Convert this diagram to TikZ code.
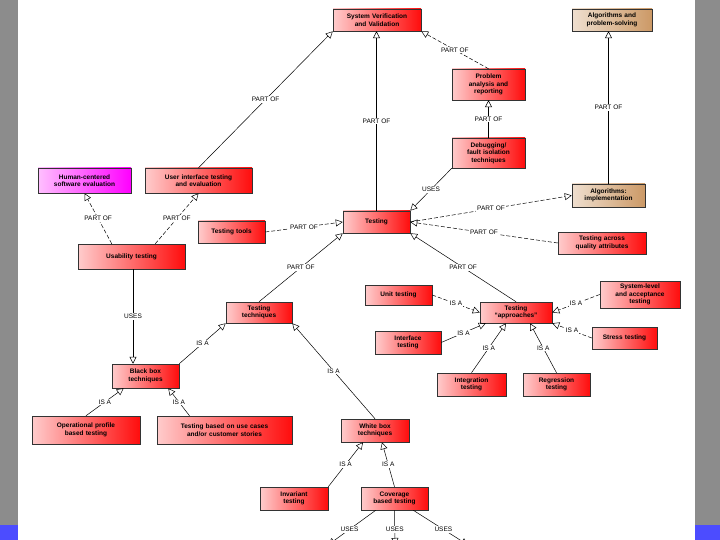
\documentclass[tikz,border=0pt]{standalone}
\usepackage{fontspec}
\setmainfont{Liberation Sans}
\usetikzlibrary{arrows.meta,shadows}
\begin{document}
\begin{tikzpicture}[x=1pt,y=-1pt,
 box/.style={draw=black!80,line width=0.5pt,left color=red!20,right color=red!95,align=center,font=\fontsize{6.5}{7.5}\selectfont\bfseries,inner sep=1pt,drop shadow={opacity=0.4,shadow xshift=1pt,shadow yshift=-1pt}},
 tan/.style={left color=brown!25,right color=brown!80!white},
 mag/.style={left color=magenta!25,right color=magenta},
 lab/.style={fill=white,font=\fontsize{6.5}{7.5}\selectfont,inner sep=1pt},
 rel/.style={-{Triangle[open,length=7pt,width=7pt]},line width=0.5pt},
 dsh/.style={rel,dash pattern=on 4pt off 2pt}]
\fill[black!45] (0,0) rectangle (18,540);
\fill[black!45] (695,0) rectangle (720,540);
\fill[white] (18,0) rectangle (695,540);
\fill[blue!70] (0,525) rectangle (18,540);
\fill[blue!70] (695,525) rectangle (720,540);
\useasboundingbox (0,0) rectangle (720,540);
\def\bx(#1,#2,#3,#4)#5#6{\node[box,#6,minimum width=#3-#1,minimum height=#4-#2,text width=#3-#1-4] (#5) at ({(#1+#3)/2},{(#2+#4)/2})}
\bx(333,9,421,31){svv}{}{System Verification\\and Validation};
\bx(572,9,652,31){aps}{tan}{Algorithms and\\problem-solving};
\bx(452,69,525,100){pa}{}{Problem\\analysis and\\reporting};
\bx(452,138,525,168){dbg}{}{Debugging/\\fault isolation\\techniques};
\bx(38,168,131,193){hc}{mag}{Human-centered\\software evaluation};
\bx(145,168,252,193){ui}{}{User interface testing\\and evaluation};
\bx(572,184,645,207){ai}{tan}{Algorithms:\\implementation};
\bx(343,211,410,233){t}{}{Testing};
\bx(198,221,265,243){tt}{}{Testing tools};
\bx(558,232,646,254){qa}{}{Testing across\\quality attributes};
\bx(78,244,185,269){us}{}{Usability testing};
\bx(365,285,432,305){ut}{}{Unit testing};
\bx(226,302,292,323){tech}{}{Testing\\techniques};
\bx(480,302,552,323){ap}{}{Testing\\``approaches''};
\bx(600,281,680,308){sl}{}{System-level\\and acceptance\\testing};
\bx(375,331,441,354){it}{}{Interface\\testing};
\bx(592,327,657,349){st}{}{Stress testing};
\bx(112,364,179,388){bb}{}{Black box\\techniques};
\bx(437,373,506,396){ig}{}{Integration\\testing};
\bx(523,373,590,396){rg}{}{Regression\\testing};
\bx(32,416,140,444){op}{}{Operational profile\\based testing};
\bx(157,416,292,444){uc}{}{Testing based on use cases\\and/or customer stories};
\bx(341,419,409,442){wb}{}{White box\\techniques};
\bx(260,487,328,510){inv}{}{Invariant\\testing};
\bx(361,487,428,510){cov}{}{Coverage\\based testing};
\coordinate (e1) at (328,545);
\coordinate (e2) at (395,545);
\coordinate (e3) at (468,545);
\draw[rel] (ui.north) -- (svv.south west) node[lab,midway]{PART OF};
\draw[rel] (t.north) -- (t.north|-svv.south) node[lab,midway]{PART OF};
\draw[dsh] (pa.north) -- (svv.south east) node[lab,midway]{PART OF};
\draw[rel] (dbg) -- (pa) node[lab,midway]{PART OF};
\draw[rel] (ai.north) -- (ai.north|-aps.south) node[lab,midway]{PART OF};
\draw[rel] (dbg.south west) -- (t.north east) node[lab,midway]{USES};
\draw[dsh] (t.east) -- (ai.west) node[lab,midway]{PART OF};
\draw[dsh] (qa.west) -- (t.east) node[lab,midway]{PART OF};
\draw[dsh] (tt.east) -- (t.west) node[lab,midway]{PART OF};
\draw[rel] (ap.north) -- (t.south east) node[lab,midway]{PART OF};
\draw[rel] (tech.north) -- (t.south west) node[lab,midway]{PART OF};
\draw[dsh] ([xshift=34]us.north west) -- (hc.south) node[lab,midway]{PART OF};
\draw[dsh] ([xshift=-30]us.north east) -- (ui.south) node[lab,midway]{PART OF};
\draw[rel] ([xshift=1.5]us.south) -- ([xshift=-12.5]bb.north) node[lab,midway]{USES};
\draw[rel] (bb.north east) -- (tech.south west) node[lab,midway]{IS A};
\draw[rel] (wb.north) -- (tech.south east) node[lab,midway]{IS A};
\draw[rel] ([xshift=-35]uc.north) -- ([xshift=-11]bb.south east) node[lab,midway]{IS A};
\draw[rel] (op.north) -- ([xshift=12]bb.south west) node[lab,midway]{IS A};
\draw[rel] (inv.north east) -- ([xshift=-12]wb.south) node[lab,midway]{IS A};
\draw[rel] (cov.north) -- ([xshift=7]wb.south) node[lab,midway]{IS A};
\draw[dsh] (ut.east) -- (ap.west) node[lab,midway]{IS A};
\draw[dsh] (sl.west) -- (ap.east) node[lab,midway]{IS A};
\draw[rel] (it.east) -- ([xshift=6]ap.south west) node[lab,midway]{IS A};
\draw[dsh] (st.west) -- (ap.south east) node[lab,midway]{IS A};
\draw[rel] (ig.north) -- ([xshift=-10]ap.south) node[lab,midway]{IS A};
\draw[rel] (rg.north) -- ([xshift=14]ap.south) node[lab,midway]{IS A};
\draw[rel] ([xshift=15]cov.south west) -- (e1) node[lab,pos=0.55]{USES};
\draw[rel] (cov.south) -- (e2) node[lab,pos=0.55]{USES};
\draw[rel] ([xshift=-15]cov.south east) -- (e3) node[lab,pos=0.55]{USES};
\end{tikzpicture}
\end{document}
